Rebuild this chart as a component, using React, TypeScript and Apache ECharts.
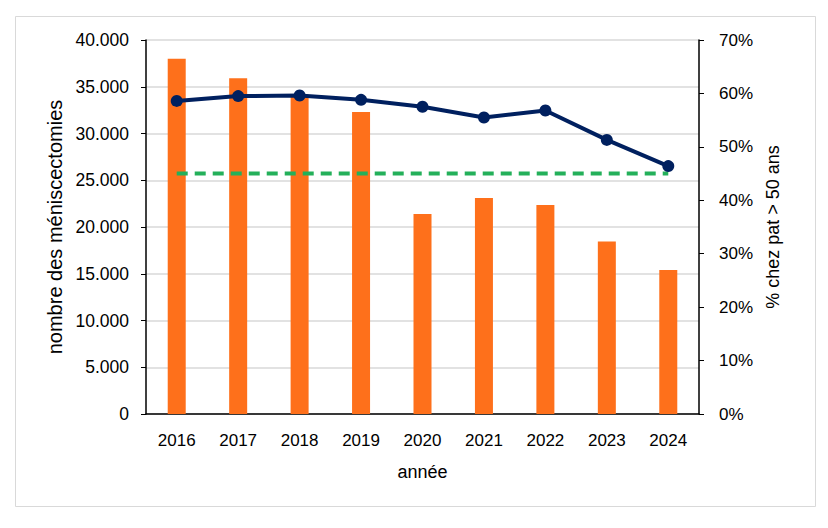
import React, { useEffect, useRef } from "react";
import * as echarts from "echarts";

const years = ["2016", "2017", "2018", "2019", "2020", "2021", "2022", "2023", "2024"];
const counts = [38000, 35900, 34000, 32300, 21400, 23100, 22350, 18450, 15400];
const pctOver50 = [58.6, 59.5, 59.6, 58.8, 57.5, 55.5, 56.8, 51.3, 46.4];
const reference45 = [45, 45, 45, 45, 45, 45, 45, 45, 45];

const FONT = "Liberation Sans";

function fmtThousands(v: number): string {
  return String(v).replace(/\B(?=(\d{3})+(?!\d))/g, ".");
}

export default function App() {
  const ref = useRef<HTMLDivElement>(null);
  useEffect(() => {
    if (!ref.current) return;
    const chart = echarts.init(ref.current, undefined, { renderer: "svg" });
    chart.setOption({
      animation: false,
      backgroundColor: "#ffffff",
      textStyle: { fontFamily: FONT, color: "#000" },
      graphic: [
        {
          type: "rect",
          shape: { x: 15.5, y: 16.5, width: 800, height: 490 },
          style: { fill: "none", stroke: "#d9d9d9", lineWidth: 1 },
          silent: true,
          z: -10,
        },
      ],
      grid: { left: 146, right: 129, top: 40, bottom: 114, containLabel: false },
      xAxis: {
        type: "category",
        data: years,
        name: "année",
        nameLocation: "middle",
        nameGap: 49,
        nameTextStyle: { fontFamily: FONT, fontSize: 18, color: "#000" },
        axisLine: { lineStyle: { color: "#000", width: 1.5 } },
        axisTick: { show: false },
        axisLabel: { fontFamily: FONT, fontSize: 17, color: "#000", margin: 18 },
      },
      yAxis: [
        {
          type: "value",
          min: 0,
          max: 40000,
          interval: 5000,
          name: "nombre des méniscectomies",
          nameLocation: "middle",
          nameGap: 72,
          nameRotate: 90,
          nameTextStyle: { fontFamily: FONT, fontSize: 20, color: "#000" },
          axisLine: { show: true, lineStyle: { color: "#000", width: 1.5 } },
          axisTick: { show: true, length: 5, lineStyle: { color: "#000" } },
          axisLabel: {
            fontFamily: FONT,
            fontSize: 17.5,
            color: "#000",
            margin: 17,
            formatter: (v: number) => fmtThousands(v),
          },
          splitLine: { show: true, lineStyle: { color: "#d9d9d9", width: 1.5 } },
        },
        {
          type: "value",
          min: 0,
          max: 70,
          interval: 10,
          position: "right",
          name: "% chez pat > 50 ans",
          nameLocation: "middle",
          nameGap: 65,
          nameRotate: 90,
          nameTextStyle: { fontFamily: FONT, fontSize: 18, color: "#000" },
          axisLine: { show: true, lineStyle: { color: "#000", width: 1.5 } },
          axisTick: { show: true, length: 5, lineStyle: { color: "#000" } },
          axisLabel: {
            fontFamily: FONT,
            fontSize: 17,
            color: "#000",
            margin: 20,
            formatter: "{value}%",
          },
          splitLine: { show: false },
        },
      ],
      series: [
        {
          type: "bar",
          data: counts,
          yAxisIndex: 0,
          barWidth: 18,
          itemStyle: { color: "#fe701b" },
          z: 1,
        },
        {
          type: "line",
          data: reference45,
          yAxisIndex: 1,
          symbol: "none",
          lineStyle: { color: "#24b05a", width: 4, type: [11, 7] },
          z: 2,
        },
        {
          type: "line",
          data: pctOver50,
          yAxisIndex: 1,
          symbol: "circle",
          symbolSize: 12,
          itemStyle: { color: "#00205f" },
          lineStyle: { color: "#00205f", width: 4 },
          z: 3,
        },
      ],
    });
    return () => chart.dispose();
  }, []);
  return (
    <div
      ref={ref}
      style={{ position: "fixed", left: 0, top: 0, width: 828, height: 528 }}
    />
  );
}
